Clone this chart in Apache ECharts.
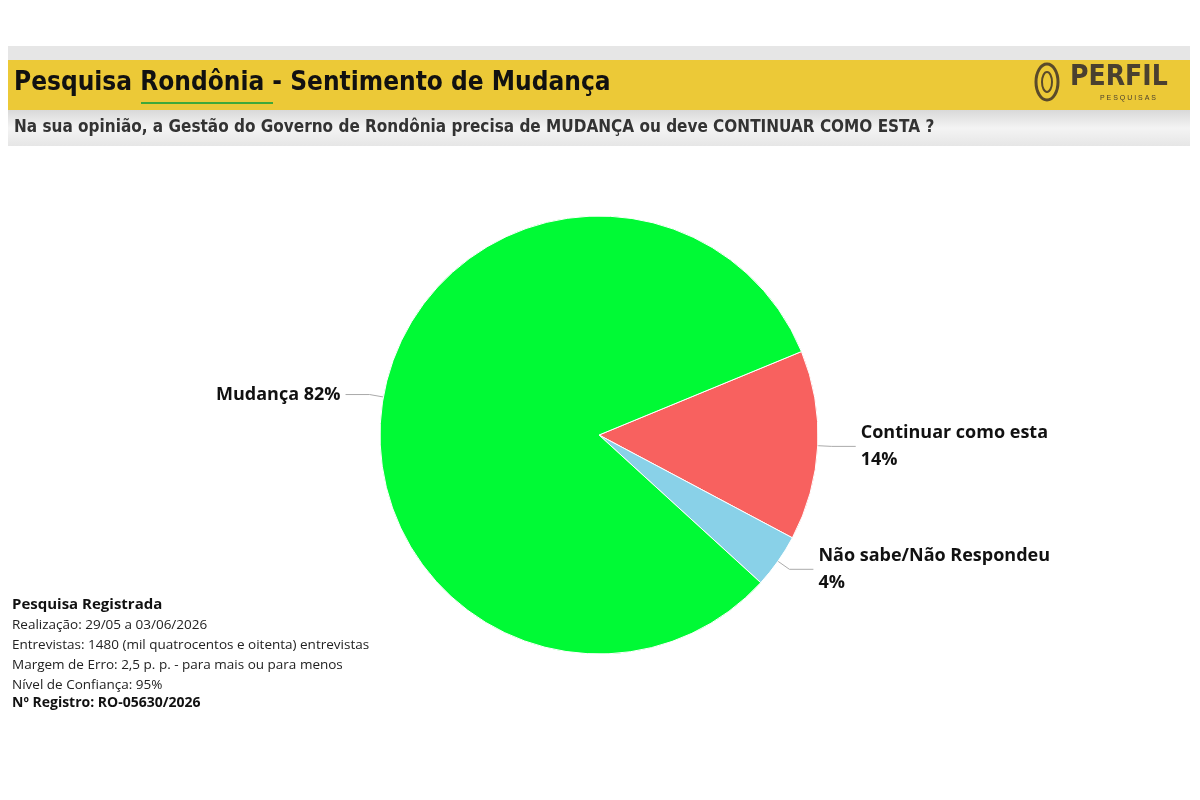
<!DOCTYPE html>
<html><head><meta charset="utf-8">
<script src="https://cdn.jsdelivr.net/npm/echarts@6/dist/echarts.min.js"></script>
<style>html,body{margin:0;background:#fff}#c{width:1200px;height:800px}</style>
</head><body><div id="c"></div>
<script>
const categories = ['Continuar como esta', 'Não sabe/Não Respondeu', 'Mudança'];
const values = [14, 4, 82];
const colors = ['#f8615f', '#89d1e8', '#00fa35'];
const labelTexts = ['Continuar como esta\n14%', 'Não sabe/Não Respondeu\n4%', 'Mudança 82%'];
const infoLines = ['Realização: 29/05 a 03/06/2026','Entrevistas: 1480 (mil quatrocentos e oitenta) entrevistas','Margem de Erro: 2,5 p. p. - para mais ou para menos','Nível de Confiança: 95%'];

const chart = echarts.init(document.getElementById('c'));
const cond = '"DejaVu Sans Condensed", "DejaVu Sans", sans-serif';
const gfx = [
  {type:'rect', shape:{x:8,y:46,width:1182,height:14}, style:{fill:'#e6e6e6'}},
  {type:'rect', shape:{x:8,y:60,width:1182,height:50}, style:{fill:'#ecc937'}},
  {type:'rect', shape:{x:8,y:110,width:1182,height:36}, style:{fill:new echarts.graphic.LinearGradient(0,0,0,1,[{offset:0,color:'#d9d9d9'},{offset:0.5,color:'#f4f4f4'},{offset:1,color:'#e6e6e6'}])}},
  {type:'text', left:14, top:70, style:{text:'Pesquisa Rondônia - Sentimento de Mudança', font:'bold 26px '+cond, fill:'#111'}},
  {type:'rect', shape:{x:141,y:102,width:132,height:2}, style:{fill:'#3fa83a'}},
  {type:'text', left:14, top:119, style:{text:'Na sua opinião, a Gestão do Governo de Rondônia precisa de MUDANÇA ou deve CONTINUAR COMO ESTA ?', font:'bold 17px '+cond, fill:'#333'}},
  {type:'ellipse', shape:{cx:1047,cy:82,rx:11,ry:18}, style:{fill:'none',stroke:'#5a4a2a',lineWidth:3}},
  {type:'ellipse', shape:{cx:1047,cy:82,rx:5,ry:10}, style:{fill:'none',stroke:'#5a4a2a',lineWidth:2}},
  {type:'text', left:1070, top:64, style:{text:'PERFIL', font:'bold 28px '+cond, fill:'#4a4030'}},
  {type:'text', left:1100, top:95, style:{text:'P E S Q U I S A S', font:'7px sans-serif', fill:'#4a4030'}},
  {type:'text', left:12, top:597, style:{text:'Pesquisa Registrada', font:'bold 15px "Open Sans", sans-serif', fill:'#111'}},
  {type:'text', left:12, top:696, style:{text:'Nº Registro: RO-05630/2026', font:'bold 14px "Open Sans", sans-serif', fill:'#111'}}
];
infoLines.forEach((t,i)=>gfx.push({type:'text', left:12, top:618+i*20, style:{text:t, font:'13.5px "Open Sans", sans-serif', fill:'#222'}}));

chart.setOption({
  animation:false,
  graphic: gfx,
  series:[{
    type:'pie', center:[599,435], radius:219, startAngle:22.4, clockwise:true,
    itemStyle:{borderColor:'#fff', borderWidth:1},
    label:{show:true, position:'outside', formatter:p=>labelTexts[p.dataIndex], fontWeight:'bold', fontSize:18, fontFamily:'"Open Sans", sans-serif', color:'#111', lineHeight:27, align:'left'},
    labelLine:{show:true, length:14, length2:24, lineStyle:{color:'#aaa', width:1}},
    data: categories.map((c,i)=>({name:c, value:values[i], itemStyle:{color:colors[i]}}))
  }]
});
</script></body></html>
